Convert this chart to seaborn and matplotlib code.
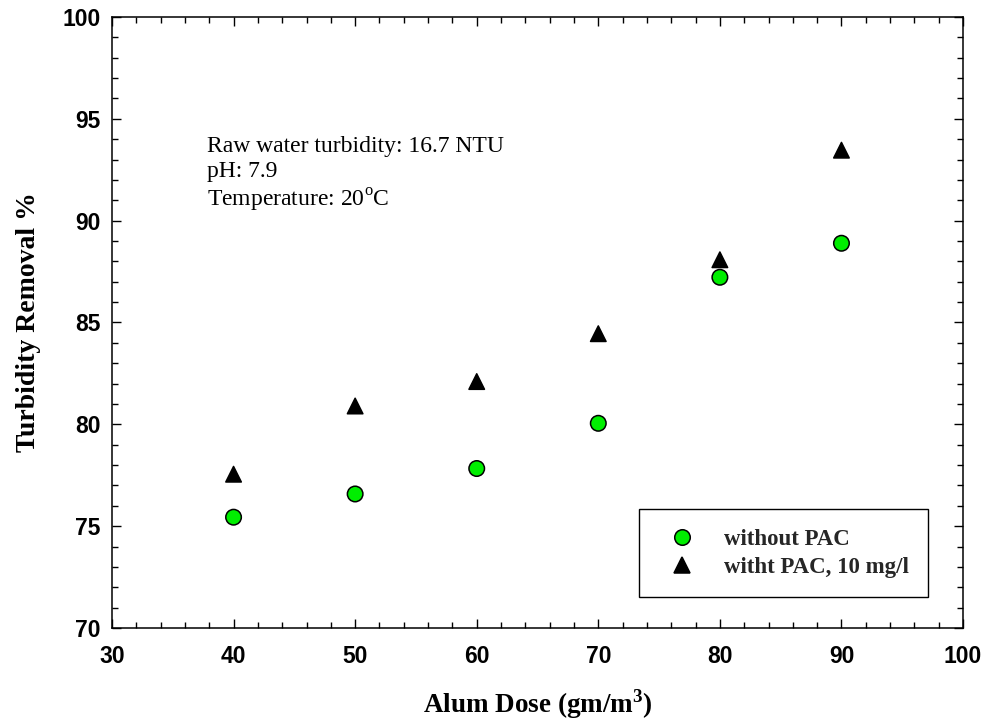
import numpy as np
import pandas as pd
import matplotlib
matplotlib.use('Agg')
import matplotlib.pyplot as plt
from matplotlib.ticker import MultipleLocator
import seaborn as sns

# values
dose = [40, 50, 60, 70, 80, 90]
without_pac = [75.44, 76.58, 77.83, 80.05, 87.22, 88.89]
with_pac = [77.55, 80.9, 82.1, 84.45, 88.08, 93.46]
series_names = ['without PAC', 'witht PAC, 10 mg/l']
note_lines = ['Raw water turbidity: 16.7 NTU', 'pH: 7.9', r'Temperature: 20$^{\rm o}$C']

df = pd.DataFrame({
    'dose': dose * 2,
    'removal': without_pac + with_pac,
    'series': [series_names[0]] * len(dose) + [series_names[1]] * len(dose),
})

sns.set_theme(style='ticks')
plt.rcParams['font.family'] = ['Liberation Serif', 'DejaVu Serif']
plt.rcParams['mathtext.fontset'] = 'custom'
plt.rcParams['mathtext.rm'] = 'Liberation Serif'
plt.rcParams['mathtext.bf'] = 'Liberation Serif:bold'

fig = plt.figure(figsize=(9.84, 7.26), dpi=100)
ax = fig.add_axes([0.1138, 0.135, 0.8649, 0.8416])

sns.scatterplot(data=df, x='dose', y='removal', hue='series', style='series',
                markers={series_names[0]: 'o', series_names[1]: '^'},
                palette={series_names[0]: '#00ee00', series_names[1]: 'black'},
                s=125, edgecolor='black', linewidth=1.1, ax=ax, zorder=3)

ax.set_xlim(30, 100)
ax.set_ylim(70, 100)
ax.xaxis.set_major_locator(MultipleLocator(10))
ax.xaxis.set_minor_locator(MultipleLocator(2))
ax.yaxis.set_major_locator(MultipleLocator(5))
ax.yaxis.set_minor_locator(MultipleLocator(1))
ax.tick_params(which='both', direction='in', top=True, right=True, width=1.0, color='black')
ax.tick_params(which='major', length=6.5)
ax.tick_params(which='minor', length=4.3)
ax.tick_params(axis='x', which='major', pad=12)
ax.tick_params(axis='y', which='major', pad=8)
for lab in ax.get_xticklabels() + ax.get_yticklabels():
    lab.set_fontfamily('Liberation Sans')
    lab.set_fontweight('bold')
    lab.set_fontsize(16.5)
    lab.set_color('black')
for sp in ax.spines.values():
    sp.set_visible(True)
    sp.set_linewidth(1.1)
    sp.set_color('black')

ax.set_xlabel(r'Alum Dose (gm/m$^{\mathbf{3}}$)', fontsize=19.5, fontweight='bold', color='black')
ax.set_ylabel('Turbidity Removal %', fontsize=20, fontweight='bold', color='black')
ax.xaxis.set_label_coords(0.5, -0.097)
ax.yaxis.set_label_coords(-0.083, 0.5)

ax.text(0.1116, 0.805, '\n'.join(note_lines), transform=ax.transAxes,
        fontsize=17, va='top', ha='left', linespacing=1.25, color='black')

leg = ax.legend(loc='lower right', bbox_to_anchor=(0.959, 0.0507), borderaxespad=0,
                frameon=True, fancybox=False, edgecolor='black', framealpha=1,
                prop={'family': 'Liberation Serif', 'weight': 'bold', 'size': 16.5},
                borderpad=0.85, labelspacing=0.3, handlelength=2.0, handletextpad=0.83,
                markerscale=1.0)
leg.get_frame().set_linewidth(1.0)

fig.savefig('out.png', dpi=100)
